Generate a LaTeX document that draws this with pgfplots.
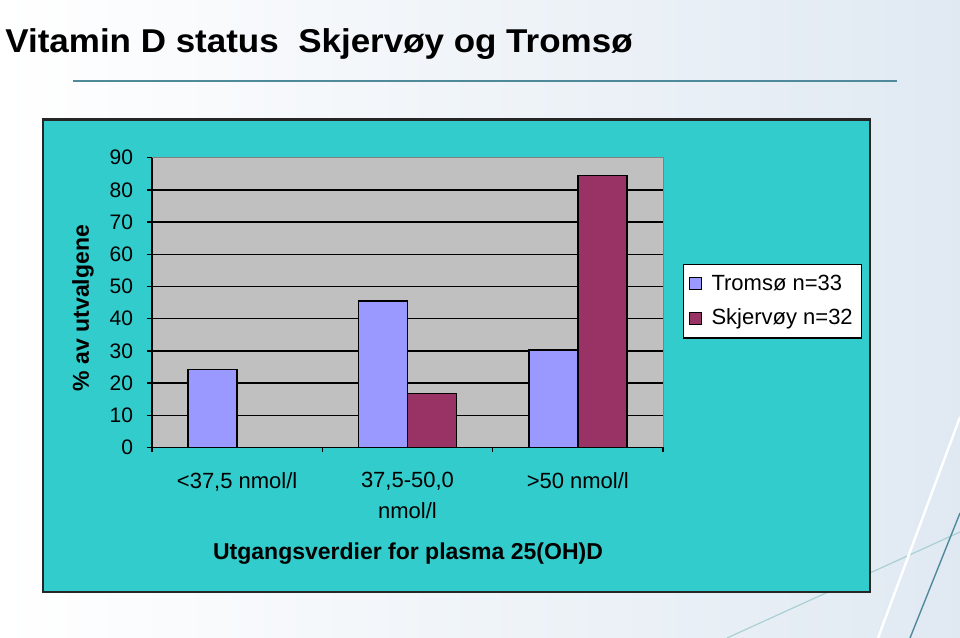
\documentclass[border=0pt]{standalone}
\usepackage{pgfplots}
\pgfplotsset{compat=1.18}
\usepackage{fontspec}
\setmainfont{Liberation Sans}
\definecolor{boxteal}{RGB}{51,204,204}
\definecolor{plotgray}{RGB}{192,192,192}
\definecolor{tromso}{RGB}{153,153,255}
\definecolor{skjervoy}{RGB}{153,51,102}
\definecolor{linet}{RGB}{78,138,154}
\definecolor{bgblue}{RGB}{224,233,242}
\begin{document}
\begin{tikzpicture}[x=1pt,y=1pt]
\useasboundingbox (0,0) rectangle (480,319);
\shade[left color=white, right color=bgblue] (0,0) rectangle (480,319);
% decorative lines
\draw[color={rgb,255:red,170;green,208;blue,214}, line width=0.6pt] (363.5,0) -- (480,53);
\draw[white, line width=1.2pt] (439,0) -- (480,110.5);
\draw[linet, line width=0.7pt] (455,0) -- (480,62.5);
% title
\node[anchor=base west, inner sep=0] at (2.5,292.5) {\scalebox{1.06}[1]{\fontsize{16.5}{19}\selectfont\bfseries Vitamin D status\ \ Skjervøy og Tromsø}};
\draw[linet, line width=1pt] (36.5,278.25) -- (448.5,278.25);
% chart box
\draw[fill=boxteal, draw=black!85, line width=1.1pt] (21.5,23) rectangle (435,259.25);
\begin{axis}[
  at={(76pt,95.25pt)}, anchor=south west,
  scale only axis, width=255.5pt, height=144.9pt,
  xmin=-0.5, xmax=2.5, ymin=0, ymax=90,
  axis background/.style={fill=plotgray, draw=gray},
  axis x line*=bottom, axis y line*=left,
  axis line style={black, line width=0.8pt},
  ytick={0,10,...,80}, extra y ticks={90}, extra y tick style={grid=none},
  ymajorgrids, major grid style={black, line width=0.75pt},
  tick align=outside, major tick length=2.5pt,
  tick style={black, line width=0.7pt},
  /pgf/number format/assume math mode=true,
  yticklabel style={font=\fontsize{10.5}{12}\selectfont, xshift=-3.5pt},
  xtick={-0.5,0.5,1.5,2.5}, xticklabels={{},{},{},{}},
  extra x ticks={0,1,2},
  extra x tick labels={{<37,5 nmol/l},{37,5-50,0\\nmol/l},{>50 nmol/l}},
  extra x tick style={major tick length=0pt, tick style={draw=none}},
  xticklabel style={align=center, font=\fontsize{11}{15.5}\selectfont, yshift=-9pt},
  ylabel={\fontsize{11.5}{13}\selectfont\bfseries\% av utvalgene},
  ylabel style={at={(axis description cs:-0.135,0.481)}, anchor=center},
  xlabel={\fontsize{11.5}{13}\selectfont\bfseries Utgangsverdier for plasma 25(OH)D},
  xlabel style={at={(axis description cs:0.501,-0.388)}, anchor=base},
  legend style={at={(1.039,0.633)}, anchor=north west, draw=black, line width=0.6pt,
    fill=white, font=\fontsize{11}{13}\selectfont, inner xsep=2.5pt, inner ysep=3pt,
    row sep=4pt, /tikz/every odd column/.append style={column sep=3pt}},
  legend cell align=left,
]
\addplot[ybar, bar width=0.288, bar shift=-0.144, fill=tromso, draw=black, line width=0.75pt,
  legend image code/.code={\draw[fill=tromso, draw=black, line width=0.5pt] (0pt,-3pt) rectangle (6pt,3pt);}]
  coordinates {(0,24.2) (1,45.5) (2,30.3)};
\addlegendentry{Tromsø n=33}
\addplot[ybar, bar width=0.288, bar shift=0.144, fill=skjervoy, draw=black, line width=0.75pt,
  legend image code/.code={\draw[fill=skjervoy, draw=black, line width=0.5pt] (0pt,-3pt) rectangle (6pt,3pt);}]
  coordinates {(1,16.7) (2,84.4)};
\addlegendentry{Skjervøy n=32}
\end{axis}
\end{tikzpicture}
\end{document}
